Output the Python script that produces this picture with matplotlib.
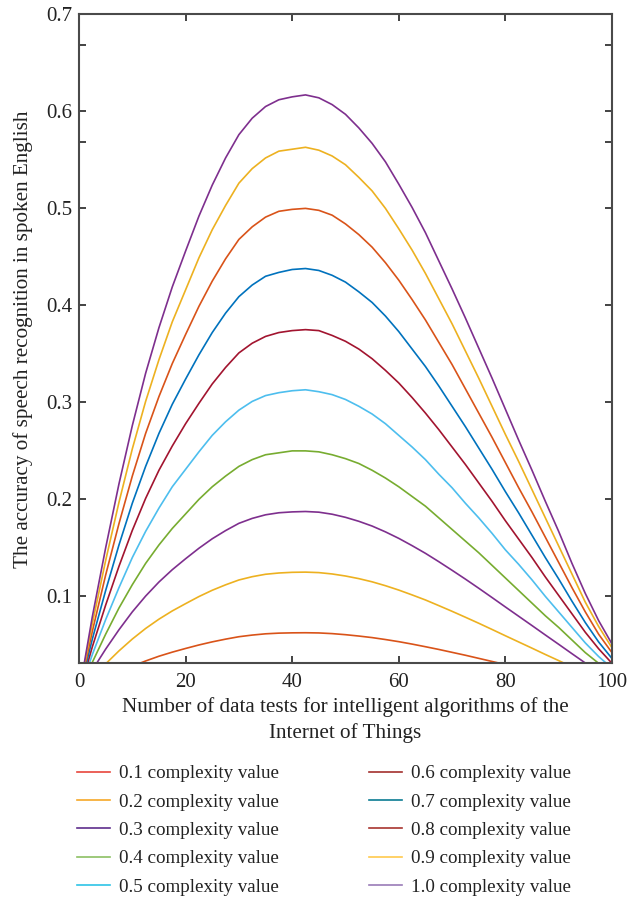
import matplotlib
matplotlib.use("Agg")
import matplotlib.pyplot as plt
from matplotlib.lines import Line2D

# valores (cada 2.5 pruebas)
x = [0, 2.5, 5, 7.5, 10, 12.5, 15, 17.5, 20, 22.5, 25, 27.5, 30, 32.5, 35, 37.5, 40, 42.5,
     45, 47.5, 50, 52.5, 55, 57.5, 60, 62.5, 65, 67.5, 70, 72.5, 75, 77.5, 80, 82.5, 85,
     87.5, 90, 92.5, 95, 97.5, 100]

c01 = [0, .0080, .0152, .0219, .0280, .0334, .0383, .0425, .0463, .0499, .0531, .0559, .0584, .0601, .0614, .0621, .0624,
       .0625, .0623, .0616, .0605, .0591, .0575, .0555, .0533, .0508, .0481, .0453, .0423, .0393, .0361, .0329, .0297,
       .0265, .0233, .0201, .0169, .0136, .0104, .0076, .0052]
c02 = [0, .0160, .0304, .0438, .0560, .0669, .0765, .0850, .0925, .0998, .1063, .1119, .1169, .1203, .1228, .1241, .1248,
       .1250, .1245, .1231, .1210, .1183, .1150, .1110, .1065, .1015, .0963, .0905, .0846, .0785, .0723, .0659, .0594,
       .0530, .0466, .0401, .0338, .0273, .0209, .0153, .0104]
c03 = [0, .0240, .0456, .0656, .0840, .1003, .1148, .1275, .1388, .1496, .1594, .1678, .1753, .1804, .1841, .1862, .1871,
       .1875, .1868, .1847, .1815, .1774, .1725, .1665, .1598, .1523, .1444, .1358, .1269, .1178, .1084, .0988, .0891,
       .0795, .0699, .0602, .0506, .0409, .0313, .0229, .0156]
c04 = [0, .032, .061, .088, .112, .134, .153, .170, .185, .200, .213, .224, .234, .241, .246, .248, .250, .250, .249, .246, .242,
       .237, .230, .222, .213, .203, .193, .181, .169, .157, .145, .132, .119, .106, .093, .080, .068, .055, .042, .031, .021]
c05 = [0, .040, .076, .109, .140, .167, .191, .213, .231, .249, .266, .280, .292, .301, .307, .310, .312, .313, .311, .308, .303,
       .296, .288, .278, .266, .254, .241, .226, .212, .196, .181, .165, .148, .133, .117, .100, .084, .068, .052, .038, .026]
c06 = [0, .048, .091, .131, .168, .201, .230, .255, .278, .299, .319, .336, .351, .361, .368, .372, .374, .375, .374, .369, .363,
       .355, .345, .333, .320, .305, .289, .272, .254, .236, .217, .198, .178, .159, .140, .120, .101, .082, .063, .046, .031]
c07 = [0, .056, .106, .153, .196, .234, .268, .298, .324, .349, .372, .392, .409, .421, .430, .434, .437, .438, .436, .431, .424,
       .414, .403, .389, .373, .355, .337, .317, .296, .275, .253, .231, .208, .186, .163, .140, .118, .095, .073, .053, .036]
c08 = [0, .064, .122, .175, .224, .268, .306, .340, .370, .399, .425, .448, .468, .481, .491, .497, .499, .500, .498, .493, .484,
       .473, .460, .444, .426, .406, .385, .362, .339, .314, .289, .264, .238, .212, .187, .161, .135, .109, .084, .061, .042]
c09 = [0, .072, .137, .197, .252, .301, .344, .383, .416, .449, .478, .503, .526, .541, .552, .559, .561, .563, .560, .554, .545,
       .532, .518, .500, .479, .457, .433, .407, .381, .353, .325, .296, .267, .239, .210, .181, .152, .123, .094, .069, .047]
c10 = [0, .079, .150, .216, .276, .330, .377, .419, .456, .492, .524, .552, .576, .593, .605, .612, .615, .617, .614, .607, .597,
       .583, .567, .548, .525, .501, .475, .446, .417, .387, .356, .325, .293, .261, .230, .198, .167, .134, .103, .075, .051]

series = [c01, c02, c03, c04, c05, c06, c07, c08, c09, c10]
etiquetas = ["0.1 complexity value", "0.2 complexity value", "0.3 complexity value",
             "0.4 complexity value", "0.5 complexity value", "0.6 complexity value",
             "0.7 complexity value", "0.8 complexity value", "0.9 complexity value",
             "1.0 complexity value"]

xticks = [0, 20, 40, 60, 80, 100]
yticks = [0.1, 0.2, 0.3, 0.4, 0.5, 0.6, 0.7]

colores = ["#D95319", "#EDB120", "#7E2F8E", "#77AC30", "#4DBEEE",
           "#A2142F", "#0072BD", "#D95319", "#EDB120", "#7E2F8E"]
colores_leyenda = ["#E8463C", "#F6A828", "#5E2D8C", "#8CC063", "#2EC4E6",
                   "#A3302E", "#0A7C92", "#A8352F", "#FFC94D", "#9A7BB8"]

plt.rcParams["font.family"] = ["Liberation Serif", "DejaVu Serif"]

fig = plt.figure(figsize=(6.27, 9), dpi=100)
ax = fig.add_axes([0.126, 0.263, 0.850, 0.721])

for serie, col in zip(series, colores):
  ax.plot(x, serie, color=col, linewidth=1.2)

ax.set_xlim(0, 100)
ax.set_ylim(0.031, 0.7)
ax.set_xticks(xticks)
ax.set_xticklabels([str(v) for v in xticks])
# la figura original tiene dos marcas extra sin etiqueta
ax.set_yticks(yticks + [0.568, 0.668])
ax.set_yticklabels([f"{v:.1f}" for v in yticks] + ["", ""])
ax.tick_params(direction="in", length=5, width=1.2, top=True, right=True,
               labelsize=15, colors="#222222")
ax.tick_params(axis="x", pad=7)
ax.tick_params(axis="y", pad=5)
for s in ax.spines.values():
  s.set_linewidth(1.5)
  s.set_color("#4a4a4a")

ax.set_xlabel("Number of data tests for intelligent algorithms of the\nInternet of Things",
              fontsize=15.2, color="#222222", labelpad=4, linespacing=1.4)
ax.set_ylabel("The accuracy of speech recognition in spoken English",
              fontsize=15.2, color="#222222", labelpad=9)

manijas = [Line2D([0], [0], color=c, linewidth=1.2) for c in colores_leyenda]
fig.legend(manijas, etiquetas, ncol=2, loc="upper left", bbox_to_anchor=(0.123, 0.150),
           frameon=False, fontsize=13.7, handlelength=1.75, handletextpad=0.47,
           columnspacing=4.7, labelspacing=0.58, borderpad=0, borderaxespad=0,
           labelcolor="#222222")

fig.savefig("out.png", dpi=100)
